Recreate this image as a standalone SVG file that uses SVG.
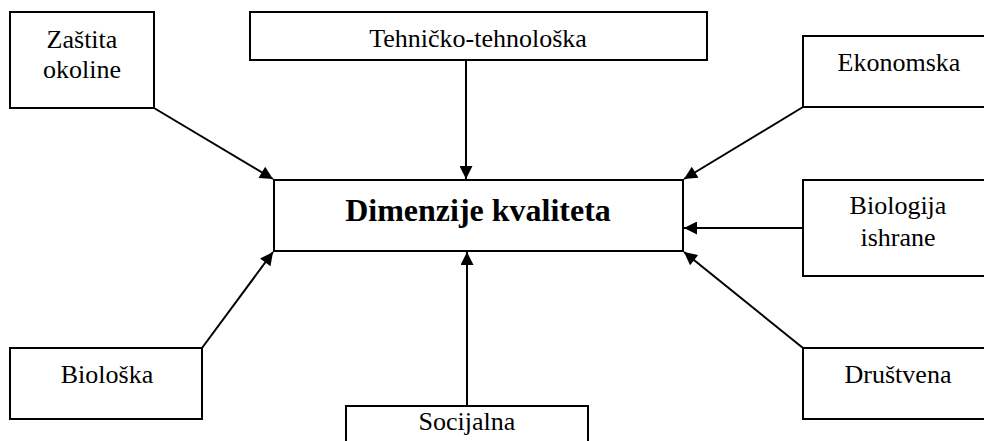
<svg xmlns="http://www.w3.org/2000/svg" width="984" height="441" viewBox="0 0 984 441">
  <style>
    .box { fill: #ffffff; stroke: #000000; stroke-width: 2; }
    .lbl { font-family: "Liberation Serif", "Times New Roman", serif; font-size: 26px; fill: #000000; text-anchor: middle; }
    .main { font-family: "Liberation Serif", "Times New Roman", serif; font-size: 32px; font-weight: bold; fill: #000000; text-anchor: middle; }
    .edge { stroke: #000000; stroke-width: 2; fill: none; marker-end: url(#arrow); }
  </style>
  <defs>
    <marker id="arrow" viewBox="0 0 10 10" refX="10" refY="5" markerWidth="7.5" markerHeight="6.5" markerUnits="strokeWidth" orient="auto">
      <path d="M0,0 L10,5 L0,10 Z" fill="#000000"/>
    </marker>
  </defs>
  <rect width="984" height="441" fill="#ffffff"/>

  <g id="connectors">
    <line class="edge" x1="154" y1="108" x2="273" y2="179"/>
    <line class="edge" x1="466" y1="60" x2="466" y2="179"/>
    <line class="edge" x1="803" y1="107" x2="684" y2="179"/>
    <line class="edge" x1="803" y1="228" x2="684" y2="228"/>
    <line class="edge" x1="202" y1="348" x2="273" y2="252"/>
    <line class="edge" x1="467" y1="406" x2="467" y2="252"/>
    <line class="edge" x1="803" y1="348" x2="684" y2="252"/>
  </g>

  <g id="dimenzije-kvaliteta">
    <rect class="box" x="274" y="180" width="409" height="71"/>
    <text class="main" x="478" y="221">Dimenzije kvaliteta</text>
  </g>

  <g id="zastita-okoline">
    <rect class="box" x="10" y="12" width="144" height="96"/>
    <text class="lbl" x="82" y="48">Zaštita</text>
    <text class="lbl" x="82" y="78">okoline</text>
  </g>

  <g id="tehnicko-tehnoloska">
    <rect class="box" x="250" y="12" width="457" height="48"/>
    <text class="lbl" x="478" y="47">Tehničko-tehnološka</text>
  </g>

  <g id="ekonomska">
    <rect class="box" x="803" y="36" width="190" height="71"/>
    <text class="lbl" x="899" y="71">Ekonomska</text>
  </g>

  <g id="biologija-ishrane">
    <rect class="box" x="803" y="180" width="190" height="96"/>
    <text class="lbl" x="898" y="214">Biologija</text>
    <text class="lbl" x="898" y="246">ishrane</text>
  </g>

  <g id="bioloska">
    <rect class="box" x="10" y="348" width="192" height="71"/>
    <text class="lbl" x="107" y="383">Biološka</text>
  </g>

  <g id="socijalna">
    <rect class="box" x="346" y="406" width="242" height="50"/>
    <text class="lbl" x="467" y="430">Socijalna</text>
  </g>

  <g id="drustvena">
    <rect class="box" x="803" y="348" width="190" height="71"/>
    <text class="lbl" x="898" y="383">Društvena</text>
  </g>
</svg>
